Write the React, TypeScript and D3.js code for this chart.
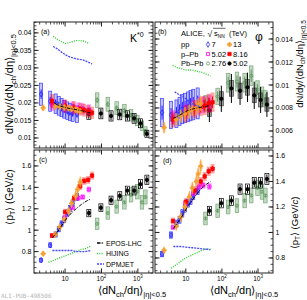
import React from 'react';
import * as d3 from 'd3';

// <dNch/deta>|eta|<0.5 of each multiplicity class
const multPp7 = [2.2, 3.9, 5.5, 6.7, 8.0, 9.5, 11.5, 13.5, 16.1, 21.3];
const multPp13 = [2.5, 5.4, 7.2, 9.5, 12.5, 15.1, 19.5, 22.0, 26.0];
const multPPb502 = [4.4, 9.8, 16.1, 23.2, 30.5, 45];
const multPPb816 = [4.4, 10, 17.7, 25.9, 33.3, 43, 55];
const multPbPb276 = [35, 76, 149, 261, 426, 649, 966, 1294, 1601];
const multPbPb502 = [44.9, 96.3, 183, 318, 512, 786, 1180, 1764];

// (a) K*0 dN/dy / <dNch/deta>
const kstarRatioPp7 = [0.0225, 0.0205, 0.0198, 0.0192, 0.0187, 0.0182, 0.0178, 0.0174, 0.0171, 0.0168];
const kstarRatioPp13 = [0.0186, 0.019, 0.0189, 0.0187, 0.0185, 0.0183, 0.0181, 0.0179, 0.0176];
const kstarRatioPPb502 = [0.0195, 0.0191, 0.0188, 0.0185, 0.0183, 0.018];
const kstarRatioPPb816 = [0.0205, 0.0191, 0.0186, 0.0182, 0.0179, 0.0176, 0.0172];
const kstarRatioPbPb276 = [null, 0.0208, 0.0196, 0.0185, 0.0178, 0.0165, 0.015, 0.0135, 0.012];
const kstarRatioPbPb502 = [0.0168, 0.017, 0.0163, 0.0167, 0.0163, 0.0156, 0.0142, 0.0112];

// (b) phi dN/dy / <dNch/deta>
const phiRatioPp7 = [0.0076, 0.0074, 0.0075, 0.0077, 0.0079, 0.008, 0.0081, 0.0082, 0.0083, 0.0084];
const phiRatioPp13 = [0.0063, 0.007, 0.0073, 0.0075, 0.0077, 0.0079, 0.008, 0.0082, 0.0084];
const phiRatioPPb502 = [0.0072, 0.0077, 0.008, 0.0082, 0.0083, 0.0084];
const phiRatioPPb816 = [0.007, 0.0075, 0.0079, 0.0081, 0.0082, 0.0084, 0.0085];
const phiRatioPbPb276 = [0.0084, 0.009, 0.0102, 0.0103, 0.0102, 0.0108, 0.0096, 0.0091, 0.0088];
const phiRatioPbPb502 = [0.0078, 0.0088, 0.0097, 0.0095, 0.0098, 0.0091, 0.0087, 0.0083];

// (c) K*0 <pT>
const kstarPtPp7 = [0.72, 0.86, 0.96, 1.01, 1.06, 1.1, 1.16, 1.2, 1.25, 1.31];
const kstarPtPp13 = [0.78, 0.96, 1.03, 1.1, 1.18, 1.25, 1.32, 1.38, 1.45];
const kstarPtPPb502 = [0.95, 1.12, 1.21, 1.3, 1.31, 1.38];
const kstarPtPPb816 = [0.95, 1.17, 1.3, 1.41, 1.46, 1.47, 1.51];
const kstarPtPbPb276 = [null, 1.06, 1.16, 1.22, 1.26, 1.33, 1.36, 1.26, 1.31];
const kstarPtPbPb502 = [1.16, 1.21, 1.28, 1.32, 1.37, 1.37, 1.43, 1.47];

// (d) phi <pT>
const phiPtPp7 = [0.83, 0.98, 1.07, 1.1, 1.15, 1.19, 1.23, 1.25, 1.29, 1.33];
const phiPtPp13 = [0.86, 1.05, 1.12, 1.2, 1.28, 1.35, 1.4, 1.46, 1.52];
const phiPtPPb502 = [1.04, 1.23, 1.31, 1.36, 1.37, 1.36];
const phiPtPPb816 = [1.09, 1.24, 1.33, 1.4, 1.44, 1.48, 1.5];
const phiPtPbPb276 = [1.11, 1.17, 1.2, 1.21, 1.25, 1.29, 1.35, 1.32, 1.29];
const phiPtPbPb502 = [1.17, 1.23, 1.25, 1.34, 1.34, 1.39, 1.39, 1.42];

// relative uncertainties, order: pp7, pp13, pPb5.02, pPb8.16, PbPb2.76, PbPb5.02
const kstarRatioSys = [0.14, 0.05, 0.09, 0.1, 0.1, 0.09];
const kstarRatioStat = [0.06, 0.05, 0.04, 0.05, 0.04, 0.08];
const phiRatioSys = [0.16, 0.07, 0.09, 0.1, 0.08, 0.07];
const phiRatioStat = [0.08, 0.08, 0.05, 0.06, 0.05, 0.13];
const kstarPtSys = [0.025, 0.025, 0.02, 0.025, 0.05, 0.03];
const kstarPtStat = [0.015, 0.035, 0.01, 0.015, 0.01, 0.025];
const phiPtSys = [0.025, 0.025, 0.02, 0.025, 0.045, 0.03];
const phiPtStat = [0.015, 0.035, 0.01, 0.015, 0.01, 0.025];

// model curves
const eposKstarMult = [5, 7, 10, 14, 20, 28, 40, 50];
const eposKstarRatio = [0.02, 0.0192, 0.0187, 0.0184, 0.0181, 0.0178, 0.0174, 0.0172];
const hijingKstarMult = [4.7, 6, 8, 10, 13, 17, 22, 30, 43];
const hijingKstarRatio = [0.039, 0.0382, 0.0375, 0.037, 0.0372, 0.0376, 0.0378, 0.0377, 0.0371];
const dpmjetKstarMult = [4.7, 6, 8, 10, 13, 17, 22, 30, 40, 55];
const dpmjetKstarRatio = [0.0361, 0.0355, 0.0345, 0.0338, 0.0332, 0.0328, 0.0325, 0.0323, 0.0318, 0.0311];

const eposPhiMult = [4.5, 7, 10, 15, 20, 30, 45];
const eposPhiRatio = [0.0071, 0.0074, 0.0077, 0.0079, 0.008, 0.0081, 0.0082];
const hijingPhiMult = [4.3, 6, 8, 10, 14, 20, 28, 40, 48];
const hijingPhiRatio = [0.0117, 0.0115, 0.0114, 0.0113, 0.0113, 0.0112, 0.0111, 0.0109, 0.0108];
const dpmjetPhiMult = [4.9, 7, 10, 13, 17, 25];
const dpmjetPhiRatio = [0.0094, 0.0091, 0.0088, 0.0085, 0.0083, 0.0081];

const eposKstarPtMult = [4.5, 6, 8, 10, 14, 20, 28, 38, 50];
const eposKstarPt = [0.93, 0.98, 1.04, 1.09, 1.15, 1.2, 1.24, 1.27, 1.29];
const hijingKstarPtMult = [3.5, 5, 7, 10, 14, 20, 28, 38, 49];
const hijingKstarPt = [0.7, 0.72, 0.74, 0.76, 0.78, 0.8, 0.82, 0.83, 0.85];
const dpmjetKstarPtMult = [4.5, 7, 10, 15, 22, 32, 50];
const dpmjetKstarPt = [0.81, 0.81, 0.81, 0.81, 0.8, 0.8, 0.81];

const eposPhiPtMult = [4.5, 6, 8, 10, 14, 20, 28, 38, 48];
const eposPhiPt = [1.03, 1.08, 1.13, 1.18, 1.24, 1.3, 1.35, 1.38, 1.4];
const hijingPhiPtMult = [3.9, 5, 7, 10, 14, 20, 28, 38, 48];
const hijingPhiPt = [0.72, 0.74, 0.77, 0.8, 0.82, 0.84, 0.86, 0.87, 0.87];
const dpmjetPhiPtMult = [4.5, 7, 10, 15, 22, 32, 48];
const dpmjetPhiPt = [0.89, 0.89, 0.885, 0.88, 0.875, 0.87, 0.865];

// tick labels
const xTickValues = [10, 100, 1000];
const kstarRatioTicks = [0.01, 0.015, 0.02, 0.025, 0.03, 0.035, 0.04];
const phiRatioTicks = [0.006, 0.008, 0.01, 0.012, 0.014];
const ptTicks = [0.8, 1, 1.2, 1.4, 1.6];

const FONT = "'Liberation Sans', Arial, Helvetica, sans-serif";
const xDomain: [number, number] = [1.4, 2600];
const GREEN = '#5f9a5f';

const styles = [
  { color: '#2424ff', sym: d3.symbolDiamond, size: 9, open: true, boxW: 3, boxFill: 'rgba(40,40,255,0.28)', boxStroke: '#3a3aff' },
  { color: '#f5a033', sym: d3.symbolCross, size: 10, open: false, boxW: 3, boxFill: 'rgba(245,160,51,0.4)', boxStroke: 'none' },
  { color: '#ff00ff', sym: d3.symbolSquare, size: 10, open: true, boxW: 4, boxFill: 'rgba(255,0,255,0.4)', boxStroke: 'none' },
  { color: '#ff0000', sym: d3.symbolSquare, size: 11, open: false, boxW: 4, boxFill: 'rgba(255,0,0,0.35)', boxStroke: 'none' },
  { color: GREEN, sym: d3.symbolCircle, size: 8, open: true, boxW: 3.5, boxFill: 'rgba(120,170,120,0.45)', boxStroke: '#7aa87a' },
  { color: '#000', sym: d3.symbolCircle, size: 9, open: false, boxW: 4, boxFill: 'none', boxStroke: '#000' },
];
// draw order: PbPb2.76, PbPb5.02, pp7, pPb5.02, pPb8.16, pp13
const drawOrder = [4, 5, 0, 2, 3, 1];
const mults = [multPp7, multPp13, multPPb502, multPPb816, multPbPb276, multPbPb502];

const modelStyles = {
  epos: { stroke: '#000', dash: '3.5,1.2,1,1.2', w: 1 },
  hijing: { stroke: '#33cc33', dash: '1,1.3', w: 1.4 },
  dpmjet: { stroke: '#4646ff', dash: '2,1', w: 1.3 },
};

type Model = { mult: number[]; vals: number[]; kind: 'epos' | 'hijing' | 'dpmjet' };

type PanelProps = {
  x0: number; x1: number; y0: number; y1: number;
  yDomain: [number, number];
  ticks: number[]; minor: number;
  labelSide: 'left' | 'right';
  xLabels: boolean;
  vals: (number | null)[][];
  sys: number[]; stat: number[];
  blackBoxFill?: string;
  models: Model[];
};

function Panel(p: PanelProps) {
  const x = d3.scaleLog().domain(xDomain).range([p.x0, p.x1]);
  const y = d3.scaleLinear().domain(p.yDomain).range([p.y1, p.y0]);
  const minorX: number[] = [];
  [1, 10, 100, 1000].forEach(d => {
    for (let m = 2; m < 10; m++) {
      const v = m * d;
      if (v > xDomain[0] && v < xDomain[1]) minorX.push(v);
    }
  });
  const [lo, hi] = p.yDomain;
  const minorY = d3.range(Math.ceil(lo / p.minor - 1e-6), Math.floor(hi / p.minor + 1e-6) + 1).map(i => i * p.minor);
  const line = d3.line<[number, number]>().x(d => x(d[0])).y(d => y(d[1])).curve(d3.curveMonotoneX);
  const fmt = (v: number) => String(+v.toFixed(4));

  return (
    <g>
      {drawOrder.map(si => {
        const st = styles[si];
        const sym = d3.symbol(st.sym, st.size)() as string;
        const fill = si === 5 && p.blackBoxFill ? p.blackBoxFill : st.boxFill;
        return (
          <g key={si}>
            {mults[si].map((m, i) => {
              const v = p.vals[si][i];
              if (v == null) return null;
              const cx = x(m);
              const yt = y(v * (1 + p.sys[si]));
              const yb = y(v * (1 - p.sys[si]));
              return (
                <g key={i}>
                  <rect x={cx - st.boxW / 2} y={yt} width={st.boxW} height={yb - yt}
                    fill={fill} stroke={si === 5 && p.blackBoxFill ? '#444' : st.boxStroke} strokeWidth={0.7} />
                  <line x1={cx} x2={cx} y1={y(v * (1 - p.stat[si]))} y2={y(v * (1 + p.stat[si]))}
                    stroke={st.color} strokeWidth={1} />
                  <path d={sym} transform={`translate(${cx},${y(v)})`}
                    fill={st.open ? 'none' : st.color} stroke={st.color} strokeWidth={0.8} />
                </g>
              );
            })}
          </g>
        );
      })}
      {p.models.map((md, i) => {
        const ms = modelStyles[md.kind];
        return (
          <path key={i} d={line(md.mult.map((m, j) => [m, md.vals[j]] as [number, number])) as string}
            fill="none" stroke={ms.stroke} strokeDasharray={ms.dash} strokeWidth={ms.w} />
        );
      })}
      <rect x={p.x0} y={p.y0} width={p.x1 - p.x0} height={p.y1 - p.y0} fill="none" stroke="#222" strokeWidth={1} />
      {xTickValues.map(v => (
        <g key={'xt' + v}>
          <line x1={x(v)} x2={x(v)} y1={p.y1} y2={p.y1 - 4.5} stroke="#222" />
          <line x1={x(v)} x2={x(v)} y1={p.y0} y2={p.y0 + 4.5} stroke="#222" />
        </g>
      ))}
      {minorX.map(v => (
        <g key={'xm' + v}>
          <line x1={x(v)} x2={x(v)} y1={p.y1} y2={p.y1 - 2.5} stroke="#222" strokeWidth={0.8} />
          <line x1={x(v)} x2={x(v)} y1={p.y0} y2={p.y0 + 2.5} stroke="#222" strokeWidth={0.8} />
        </g>
      ))}
      {minorY.map(v => (
        <g key={'ym' + v}>
          <line x1={p.x0} x2={p.x0 + 2.5} y1={y(v)} y2={y(v)} stroke="#222" strokeWidth={0.8} />
          <line x1={p.x1} x2={p.x1 - 2.5} y1={y(v)} y2={y(v)} stroke="#222" strokeWidth={0.8} />
        </g>
      ))}
      {p.ticks.map(v => (
        <g key={'yt' + v}>
          <line x1={p.x0} x2={p.x0 + 4.5} y1={y(v)} y2={y(v)} stroke="#222" />
          <line x1={p.x1} x2={p.x1 - 4.5} y1={y(v)} y2={y(v)} stroke="#222" />
          {p.labelSide === 'left' ? (
            <text x={p.x0 - 2.5} y={y(v) + 2.5} fontSize={7} textAnchor="end">{fmt(v)}</text>
          ) : (
            <text x={p.x1 + 2.5} y={y(v) + 2.5} fontSize={7}>{fmt(v)}</text>
          )}
        </g>
      ))}
      {p.xLabels && xTickValues.map((v, i) => (
        <text key={'xl' + v} x={x(v)} y={281} fontSize={6.5} textAnchor="middle">
          10{i > 0 && <tspan fontSize={4.5} dy={-3}>{i + 1}</tspan>}
        </text>
      ))}
    </g>
  );
}

function XTitle({ x0 }: { x0: number }) {
  return (
    <text x={x0} y={294} fontSize={11}>
      ⟨dN<tspan fontSize={7.5} dy={2.5}>ch</tspan>
      <tspan dy={-2.5}>/dη⟩</tspan>
      <tspan fontSize={7.5} dy={3}>|η|&lt;0.5</tspan>
    </text>
  );
}

export default function App() {
  const W = 307, H = 300;
  const kModels: Model[] = [
    { mult: hijingKstarMult, vals: hijingKstarRatio, kind: 'hijing' },
    { mult: dpmjetKstarMult, vals: dpmjetKstarRatio, kind: 'dpmjet' },
    { mult: eposKstarMult, vals: eposKstarRatio, kind: 'epos' },
  ];
  const pModels: Model[] = [
    { mult: hijingPhiMult, vals: hijingPhiRatio, kind: 'hijing' },
    { mult: dpmjetPhiMult, vals: dpmjetPhiRatio, kind: 'dpmjet' },
    { mult: eposPhiMult, vals: eposPhiRatio, kind: 'epos' },
  ];
  const kPtModels: Model[] = [
    { mult: hijingKstarPtMult, vals: hijingKstarPt, kind: 'hijing' },
    { mult: dpmjetKstarPtMult, vals: dpmjetKstarPt, kind: 'dpmjet' },
    { mult: eposKstarPtMult, vals: eposKstarPt, kind: 'epos' },
  ];
  const pPtModels: Model[] = [
    { mult: hijingPhiPtMult, vals: hijingPhiPt, kind: 'hijing' },
    { mult: dpmjetPhiPtMult, vals: dpmjetPhiPt, kind: 'dpmjet' },
    { mult: eposPhiPtMult, vals: eposPhiPt, kind: 'epos' },
  ];
  const legendRows = [
    { name: 'pp', a: '7', b: '13', sa: 0, sb: 1 },
    { name: 'p–Pb', a: '5.02', b: '8.16', sa: 2, sb: 3 },
    { name: 'Pb–Pb', a: '2.76', b: '5.02', sa: 4, sb: 5 },
  ];

  return (
    <svg width={W} height={H} fontFamily={FONT} style={{ position: 'absolute', left: 0, top: 0, background: '#fff' }}>
      <Panel x0={34} x1={153} y0={22} y1={148} yDomain={[0.00714, 0.0431]} ticks={kstarRatioTicks} minor={0.001}
        labelSide="left" xLabels={false} sys={kstarRatioSys} stat={kstarRatioStat} models={kModels}
        vals={[kstarRatioPp7, kstarRatioPp13, kstarRatioPPb502, kstarRatioPPb816, kstarRatioPbPb276, kstarRatioPbPb502]} />
      <Panel x0={155} x1={273} y0={22} y1={148} yDomain={[0.00452, 0.01548]} ticks={phiRatioTicks} minor={0.0005}
        labelSide="right" xLabels={false} sys={phiRatioSys} stat={phiRatioStat} models={pModels} blackBoxFill="rgba(90,90,90,0.6)"
        vals={[phiRatioPp7, phiRatioPp13, phiRatioPPb502, phiRatioPPb816, phiRatioPbPb276, phiRatioPbPb502]} />
      <Panel x0={34} x1={153} y0={150} y1={273} yDomain={[0.6, 1.749]} ticks={ptTicks} minor={0.05}
        labelSide="left" xLabels={true} sys={kstarPtSys} stat={kstarPtStat} models={kPtModels}
        vals={[kstarPtPp7, kstarPtPp13, kstarPtPPb502, kstarPtPPb816, kstarPtPbPb276, kstarPtPbPb502]} />
      <Panel x0={155} x1={273} y0={150} y1={273} yDomain={[0.682, 1.647]} ticks={ptTicks} minor={0.05}
        labelSide="right" xLabels={true} sys={phiPtSys} stat={phiPtStat} models={pPtModels}
        vals={[phiPtPp7, phiPtPp13, phiPtPPb502, phiPtPPb816, phiPtPbPb276, phiPtPbPb502]} />

      {/* panel labels */}
      <text x={41} y={34} fontSize={7}>(a)</text>
      <text x={158} y={34} fontSize={7}>(b)</text>
      <text x={39} y={162} fontSize={7}>(c)</text>
      <text x={163} y={163} fontSize={7}>(d)</text>
      <text x={130} y={42} fontSize={10.5}>K<tspan fontSize={7} dy={-5}>*0</tspan></text>
      <text x={259} y={41} fontSize={12} textAnchor="middle">φ</text>

      {/* ALICE legend */}
      <text x={181} y={36} fontSize={7.5}>ALICE,</text>
      <text x={207.5} y={37} fontSize={8.5}>√</text>
      <line x1={213} x2={225.5} y1={28.3} y2={28.3} stroke="#000" strokeWidth={0.6} />
      <text x={214} y={36} fontSize={7.5}>s<tspan fontSize={4.8} dy={2}>NN</tspan></text>
      <text x={229} y={36} fontSize={7.5}>(TeV)</text>
      {legendRows.map((r, i) => {
        const yy = 47 + i * 9.5;
        const sa = styles[r.sa], sb = styles[r.sb];
        return (
          <g key={r.name}>
            <text x={181} y={yy} fontSize={7.5}>{r.name}</text>
            <path d={d3.symbol(sa.sym, sa.size)() as string} transform={`translate(208,${yy - 2.5})`}
              fill={sa.open ? 'none' : sa.color} stroke={sa.color} strokeWidth={0.8} />
            <text x={211.5} y={yy} fontSize={7.5}>{r.a}</text>
            <path d={d3.symbol(sb.sym, sb.size)() as string} transform={`translate(229.5,${yy - 2.5})`}
              fill={sb.open ? 'none' : sb.color} stroke={sb.color} strokeWidth={0.8} />
            <text x={233} y={yy} fontSize={7.5}>{r.b}</text>
          </g>
        );
      })}

      {/* model legend */}
      {(['epos', 'hijing', 'dpmjet'] as const).map((k, i) => {
        const yy = 243 + i * 10.5;
        const ms = modelStyles[k];
        return (
          <g key={k}>
            <line x1={97} x2={104} y1={yy} y2={yy} stroke={ms.stroke} strokeDasharray={ms.dash} strokeWidth={ms.w + 0.3} />
            <text x={106} y={yy + 2.5} fontSize={7}>{['EPOS-LHC', 'HIJING', 'DPMJET'][i]}</text>
          </g>
        );
      })}

      {/* axis titles */}
      <text transform="translate(13,84) rotate(-90)" fontSize={11} textAnchor="middle">
        dN/dy/⟨dN<tspan fontSize={7.5} dy={2.5}>ch</tspan><tspan dy={-2.5}>/dη⟩</tspan>
        <tspan fontSize={7.5} dy={3}>|η|&lt;0.5</tspan>
      </text>
      <text transform="translate(303,64) rotate(-90)" fontSize={9.5} textAnchor="middle">
        dN/dy/⟨dN<tspan fontSize={6.5} dy={2}>ch</tspan><tspan dy={-2}>/dη⟩</tspan>
        <tspan fontSize={6.5} dy={2.5}>|η|&lt;0.5</tspan>
      </text>
      <text transform="translate(13,197) rotate(-90)" fontSize={10} textAnchor="middle">
        ⟨p<tspan fontSize={7} dy={2}>T</tspan><tspan dy={-2}>⟩ (GeV/</tspan><tspan fontStyle="italic">c</tspan>)
      </text>
      <text transform="translate(298,223) rotate(-90)" fontSize={9.5} textAnchor="middle">
        ⟨p<tspan fontSize={6.5} dy={2}>T</tspan><tspan dy={-2}>⟩ (GeV/</tspan><tspan fontStyle="italic">c</tspan>)
      </text>
      <XTitle x0={98} />
      <XTitle x0={210} />

      <text x={1} y={298} fontSize={6} fill="#b4b4b4" fontFamily="'DejaVu Sans Mono', monospace">ALI-PUB-498506</text>
    </svg>
  );
}
